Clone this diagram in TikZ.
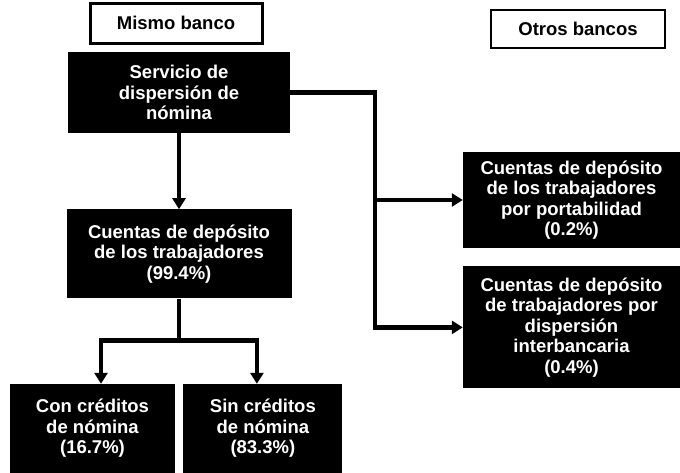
\documentclass[tikz,border=0pt]{standalone}
\usepackage{fontspec}
\setmainfont{Liberation Sans}
\usetikzlibrary{arrows.meta, positioning}
\tikzstyle{darkbox} = [rectangle, fill=black, text=white, align=center, inner sep=0pt, font=\bfseries\fontsize{18.5}{20.5}\selectfont]
\tikzstyle{headbox} = [rectangle, draw=black, fill=white, align=center, inner sep=0pt, font=\bfseries\fontsize{18.5}{20.5}\selectfont]
\tikzstyle{arrow} = [line width=4.5pt, -{Triangle[width=13pt,length=11pt]}]
\tikzstyle{plainline} = [line width=4.5pt]

\begin{document}
\begin{tikzpicture}[x=1pt, y=1pt]
	\useasboundingbox (0,0) rectangle (680,473);
	\node (servicio) [darkbox, minimum width=222pt, minimum height=81pt] at (179,380.5) {Servicio de\\dispersión de\\nómina};
	\node (mismo) [headbox, line width=3pt, minimum width=172pt, minimum height=40pt, above = 7pt of servicio, xshift=-3pt] {Mismo banco};
	\node (otros) [headbox, line width=2pt, minimum width=174pt, minimum height=38pt] at (578,444) {Otros bancos};
	\node (cuentas) [darkbox, minimum width=225pt, minimum height=89pt, below = 76pt of servicio] {Cuentas de depósito\\de los trabajadores\\(99.4\%)};
	\node (con) [darkbox, minimum width=165pt, minimum height=89pt] at (92.5,44.5) {Con créditos\\de nómina\\(16.7\%)};
	\node (sin) [darkbox, minimum width=159pt, minimum height=89pt, right = 8pt of con] {Sin créditos\\de nómina\\(83.3\%)};
	\node (porta) [darkbox, minimum width=217pt, minimum height=96pt] at (571.5,273) {Cuentas de depósito\\de los trabajadores\\por portabilidad\\(0.2\%)};
	\node (inter) [darkbox, minimum width=217pt, minimum height=122pt, below = 18pt of porta] {Cuentas de depósito\\de trabajadores por\\dispersión\\interbancaria\\(0.4\%)};
	% same bank
	\draw [arrow] (servicio) -- (cuentas);
	\draw [plainline] (cuentas.south) -- ++(0,-42);
	\draw [arrow] ([yshift=-42pt]cuentas.south) -| ([xshift=8.5pt]con.north);
	\draw [arrow] ([yshift=-42pt]cuentas.south) -| ([xshift=-6pt]sin.north);
	% other banks
	\draw [arrow] (servicio.east) -- ++(85,0) |- (porta.west);
	\draw [arrow] ([xshift=85pt]servicio.east) |- (inter.west);
\end{tikzpicture}
\end{document}
